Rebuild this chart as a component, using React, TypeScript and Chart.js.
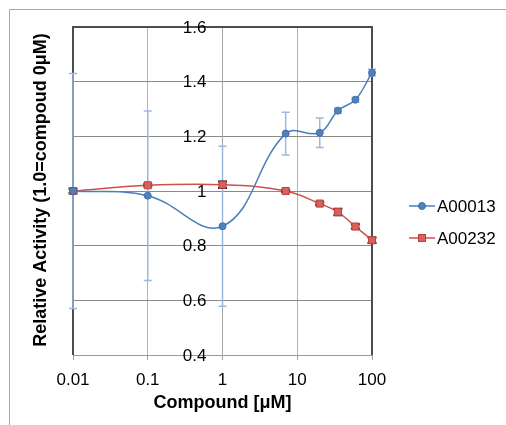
import React, { useEffect, useRef } from "react";
import { Chart, registerables } from "chart.js";

Chart.register(...registerables);

// ---- DATA ----
const concentrations = [0.01, 0.1, 1, 7, 20, 35, 60, 100];
const seriesNames = ["A00013", "A00232"];
const a00013 = [1.0, 0.983, 0.871, 1.21, 1.213, 1.294, 1.334, 1.433];
const a00013Err = [0.43, 0.31, 0.293, 0.078, 0.054, 0.01, 0.008, 0.012];
const a00232 = [1.0, 1.021, 1.023, 1.0, 0.954, 0.923, 0.87, 0.82];
const a00232Err = [0.008, 0.004, 0.012, 0.004, 0.005, 0.012, 0.008, 0.01];
const xTicks = [0.01, 0.1, 1, 10, 100];
const xTickLabels = ["0.01", "0.1", "1", "10", "100"];
const yTicks = [0.4, 0.6, 0.8, 1.0, 1.2, 1.4, 1.6];
const yTickLabels = ["0.4", "0.6", "0.8", "1", "1.2", "1.4", "1.6"];
const xTitle = "Compound [μM]";
const yTitle = "Relative Activity (1.0=compoud 0μM)";

const FONT = "'Liberation Sans', Arial, Helvetica, sans-serif";
const BLUE = "#4a7ebb";
const RED = "#cf4f4b";

const framePlugin = {
  id: "frame",
  beforeDatasetsDraw(chart: any) {
    const { ctx, chartArea: a } = chart;
    ctx.save();
    // outer frame
    ctx.strokeStyle = "#a8a8a8";
    ctx.lineWidth = 1;
    ctx.beginPath();
    ctx.moveTo(9.5, 430);
    ctx.lineTo(9.5, 9.5);
    ctx.lineTo(510, 9.5);
    ctx.stroke();
    // plot border (left, top, right)
    ctx.strokeStyle = "#4d4d4d";
    ctx.lineWidth = 2;
    ctx.beginPath();
    ctx.moveTo(a.left, a.bottom);
    ctx.lineTo(a.left, a.top);
    ctx.lineTo(a.right, a.top);
    ctx.lineTo(a.right, a.bottom);
    ctx.stroke();
    // y tick labels, placed left of the y axis that crosses at x = 1
    const yScale = chart.scales.y;
    const xScale = chart.scales.x;
    const axisX = xScale.getPixelForValue(1);
    ctx.fillStyle = "#000";
    ctx.font = `17px ${FONT}`;
    ctx.textAlign = "right";
    ctx.textBaseline = "middle";
    yTicks.forEach((v, i) => {
      ctx.fillText(yTickLabels[i], axisX - 16, yScale.getPixelForValue(v) + 1);
    });
    // error bars
    chart.data.datasets.forEach((ds: any, di: number) => {
      const meta = chart.getDatasetMeta(di);
      ctx.strokeStyle = ds.errorColor;
      ctx.lineWidth = ds.errorWidth;
      meta.data.forEach((pt: any, i: number) => {
        const v = ds.data[i].y;
        const e = ds.errors[i];
        const yt = yScale.getPixelForValue(v + e);
        const yb = yScale.getPixelForValue(v - e);
        const x = pt.x;
        const c = ds.capHalf;
        ctx.beginPath();
        ctx.moveTo(x, yt);
        ctx.lineTo(x, yb);
        ctx.moveTo(x - c, yt);
        ctx.lineTo(x + c, yt);
        ctx.moveTo(x - c, yb);
        ctx.lineTo(x + c, yb);
        ctx.stroke();
      });
    });
    ctx.restore();
  },
  afterDraw(chart: any) {
    const { ctx, chartArea: a } = chart;
    ctx.save();
    ctx.fillStyle = "#000";
    ctx.font = `bold 18px ${FONT}`;
    ctx.textAlign = "center";
    ctx.textBaseline = "middle";
    ctx.fillText(xTitle, (a.left + a.right) / 2, 403);
    ctx.translate(41, 190);
    ctx.rotate(-Math.PI / 2);
    ctx.fillText(yTitle, 0, 0);
    ctx.restore();

    // legend
    ctx.save();
    const items = [
      { y: 206, color: BLUE, style: "circle" },
      { y: 238, color: RED, style: "rect" },
    ];
    items.forEach((it, i) => {
      ctx.strokeStyle = it.color;
      ctx.lineWidth = 1.5;
      ctx.beginPath();
      ctx.moveTo(409, it.y);
      ctx.lineTo(435, it.y);
      ctx.stroke();
      if (it.style === "circle") {
        ctx.fillStyle = "#4f81bd";
        ctx.strokeStyle = "#3d6fae";
        ctx.lineWidth = 1;
        ctx.beginPath();
        ctx.arc(422, it.y, 3.5, 0, Math.PI * 2);
        ctx.fill();
        ctx.stroke();
      } else {
        ctx.fillStyle = "#d9605c";
        ctx.strokeStyle = "#b8403d";
        ctx.lineWidth = 1;
        ctx.fillRect(418.5, it.y - 3.5, 7, 7);
        ctx.strokeRect(418.5, it.y - 3.5, 7, 7);
      }
      ctx.fillStyle = "#000";
      ctx.font = `17px ${FONT}`;
      ctx.textAlign = "left";
      ctx.textBaseline = "middle";
      ctx.fillText(seriesNames[i], 437, it.y + 1);
    });
    ctx.restore();
  },
};

export default function App() {
  const ref = useRef<HTMLCanvasElement>(null);
  useEffect(() => {
    const chart = new Chart(ref.current as HTMLCanvasElement, {
      type: "line",
      data: {
        datasets: [
          {
            label: seriesNames[0],
            data: concentrations.map((x, i) => ({ x, y: a00013[i] })),
            borderColor: BLUE,
            borderWidth: 1.5,
            backgroundColor: "#4f81bd",
            pointBackgroundColor: "#4f81bd",
            pointBorderColor: "#3d6fae",
            pointBorderWidth: 1,
            pointRadius: 3.5,
            pointStyle: "circle",
            tension: 0.4,
            clip: false,
            errors: a00013Err,
            errorColor: "#9db8de",
            errorWidth: 1.5,
            capHalf: 4,
          } as any,
          {
            label: seriesNames[1],
            data: concentrations.map((x, i) => ({ x, y: a00232[i] })),
            borderColor: RED,
            borderWidth: 1.5,
            backgroundColor: "#d9605c",
            pointBackgroundColor: "#d9605c",
            pointBorderColor: "#b8403d",
            pointBorderWidth: 1,
            pointRadius: 5,
            pointStyle: "rect",
            tension: 0.4,
            clip: false,
            errors: a00232Err,
            errorColor: "#111",
            errorWidth: 2,
            capHalf: 4.5,
          } as any,
        ],
      },
      options: {
        animation: false,
        responsive: false,
        layout: { padding: { left: 73, top: 27, right: 134, bottom: 0 } },
        plugins: { legend: { display: false }, tooltip: { enabled: false } },
        scales: {
          x: {
            type: "logarithmic",
            position: "bottom",
            min: 0.01,
            max: 100,
            afterBuildTicks: (s: any) => {
              s.ticks = xTicks.map((v) => ({ value: v, major: true }));
            },
            afterFit: (s: any) => {
              s.height = 70;
            },
            ticks: {
              autoSkip: false,
              maxRotation: 0,
              callback: (_v: any, i: number) => xTickLabels[i],
              font: { family: FONT, size: 17 },
              color: "#000",
              padding: 10,
            },
            grid: { color: "#b3b3b3", lineWidth: 1, tickLength: 5, drawTicks: true, tickColor: "#a0a0a0" },
            border: { display: true, color: "#9a9a9a", width: 1 },
          } as any,
          y: {
            type: "linear",
            position: { x: 1 },
            min: 0.4,
            max: 1.6,
            afterBuildTicks: (s: any) => {
              s.ticks = yTicks.map((v) => ({ value: v }));
            },
            ticks: { display: false },
            grid: { color: "#8a8a8a", lineWidth: 1, drawTicks: false },
            border: { display: true, color: "#a6a6a6", width: 1 },
          } as any,
        },
      },
      plugins: [framePlugin],
    } as any);
    return () => chart.destroy();
  }, []);
  return (
    <div style={{ position: "fixed", left: 0, top: 0, width: 506, height: 425, background: "#fff" }}>
      <canvas ref={ref} width={506} height={425} style={{ width: 506, height: 425, display: "block" }} />
    </div>
  );
}
